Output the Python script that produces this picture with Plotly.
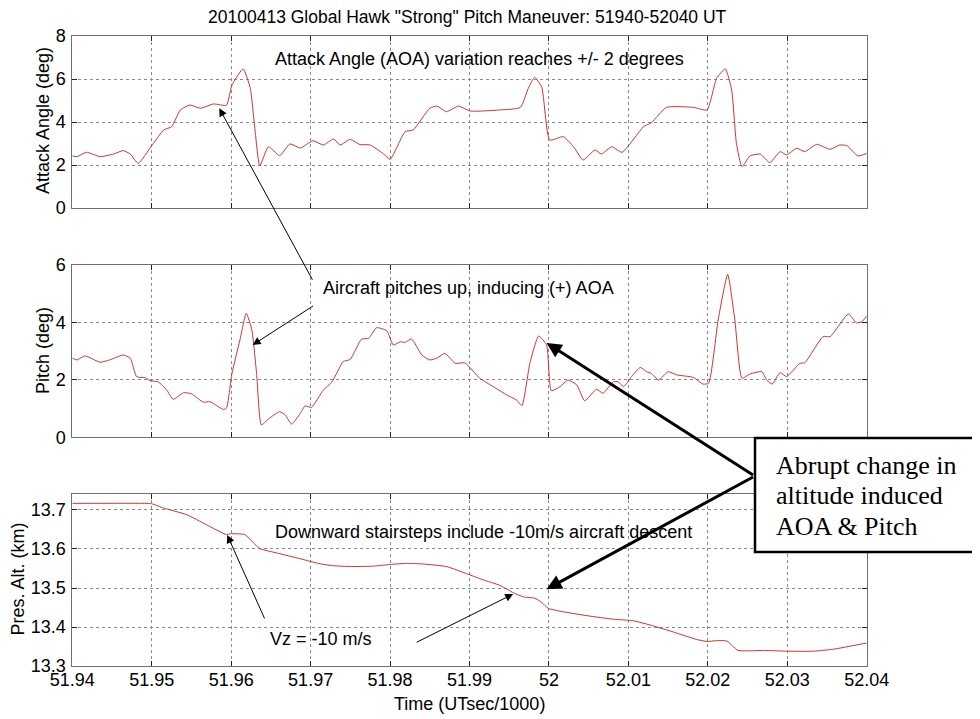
import plotly.graph_objects as go

# ---------------- data ----------------
aoa_t = [51.9400, 51.9406, 51.9418, 51.9435, 51.9452, 51.9464, 51.9473, 51.9483, 51.9500, 51.9515,
         51.9525, 51.9536, 51.9548, 51.9561, 51.9578, 51.9594, 51.9601, 51.9615, 51.9624, 51.9630,
         51.9636, 51.9647, 51.9661, 51.9674, 51.9687, 51.9703, 51.9716, 51.9729, 51.9737, 51.9750,
         51.9762, 51.9775, 51.9792, 51.9800, 51.9819, 51.9829, 51.9850, 51.9859, 51.9871, 51.9886,
         51.9901, 51.9938, 51.9964, 51.9974, 51.9982, 51.9991, 52.0001, 52.0018, 52.0031, 52.0043,
         52.0058, 52.0066, 52.0079, 52.0092, 52.0119, 52.0129, 52.0148, 52.0182, 52.0199, 52.0211,
         52.0222, 52.0230, 52.0236, 52.0243, 52.0253, 52.0266, 52.0278, 52.0291, 52.0299, 52.0312,
         52.0322, 52.0337, 52.0354, 52.0366, 52.0375, 52.0389, 52.0400]
aoa_v = [2.42, 2.39, 2.59, 2.39, 2.51, 2.67, 2.51, 2.08, 2.90, 3.63,
         3.78, 4.56, 4.79, 4.64, 4.84, 4.78, 5.72, 6.47, 5.57, 3.63,
         1.97, 2.85, 2.43, 2.98, 2.79, 3.13, 2.93, 3.21, 2.93, 3.19,
         2.95, 2.93, 2.51, 2.26, 3.55, 3.63, 4.64, 4.74, 4.48, 4.74,
         4.51, 4.56, 4.68, 5.57, 6.08, 5.61, 3.16, 3.32, 2.85, 2.23,
         2.70, 2.51, 2.85, 2.59, 3.78, 3.97, 4.68, 4.68, 4.56, 6.03,
         6.47, 5.49, 3.01, 1.92, 2.42, 2.51, 2.11, 2.62, 2.47, 2.78,
         2.62, 2.96, 2.73, 2.93, 2.90, 2.42, 2.54]

pitch_t = [51.9400, 51.9406, 51.9416, 51.9435, 51.9447, 51.9464, 51.9473, 51.9481, 51.9492, 51.9498,
           51.9508, 51.9519, 51.9527, 51.9540, 51.9550, 51.9565, 51.9573, 51.9590, 51.9594, 51.9601,
           51.9611, 51.9619, 51.9626, 51.9632, 51.9638, 51.9647, 51.9661, 51.9668, 51.9676, 51.9687,
           51.9693, 51.9701, 51.9716, 51.9727, 51.9741, 51.9750, 51.9764, 51.9773, 51.9783, 51.9796,
           51.9804, 51.9813, 51.9819, 51.9827, 51.9840, 51.9850, 51.9859, 51.9869, 51.9882, 51.9894,
           51.9913, 51.9930, 51.9947, 51.9959, 51.9966, 51.9976, 51.9987, 51.9997, 52.0003, 52.0014,
           52.0024, 52.0035, 52.0045, 52.0060, 52.0068, 52.0081, 52.0087, 52.0094, 52.0104, 52.0115,
           52.0123, 52.0129, 52.0138, 52.0150, 52.0161, 52.0182, 52.0194, 52.0201, 52.0213, 52.0225,
           52.0234, 52.0243, 52.0253, 52.0268, 52.0274, 52.0281, 52.0291, 52.0299, 52.0316, 52.0322,
           52.0345, 52.0354, 52.0377, 52.0387, 52.0394, 52.0400]
pitch_v = [2.75, 2.69, 2.83, 2.61, 2.69, 2.86, 2.75, 2.11, 2.07, 1.97,
           1.93, 1.64, 1.32, 1.55, 1.51, 1.22, 1.24, 0.97, 1.01, 2.22,
           3.38, 4.31, 3.73, 2.22, 0.43, 0.64, 0.89, 0.78, 0.46, 0.83,
           1.09, 1.04, 1.64, 1.93, 2.63, 2.71, 3.41, 3.44, 3.81, 3.70,
           3.21, 3.32, 3.30, 3.42, 2.86, 2.69, 2.75, 2.92, 2.57, 2.59,
           2.05, 1.76, 1.47, 1.30, 1.10, 2.57, 3.52, 3.21, 1.62, 1.76,
           1.99, 1.82, 1.27, 1.67, 1.53, 1.93, 1.93, 1.76, 2.11, 2.43,
           2.28, 2.22, 1.99, 2.28, 2.17, 2.08, 1.85, 1.88, 4.08, 5.66,
           4.08, 2.05, 2.20, 2.28, 1.99, 1.85, 2.25, 2.11, 2.57, 2.59,
           3.50, 3.50, 4.29, 3.98, 4.02, 4.22]

alt_t = [51.9400, 51.9494, 51.9500, 51.9515, 51.9544, 51.9569, 51.9594, 51.9599, 51.9617, 51.9628,
         51.9636, 51.9657, 51.9687, 51.9712, 51.9729, 51.9750, 51.9779, 51.9804, 51.9821, 51.9838,
         51.9871, 51.9896, 51.9917, 51.9938, 51.9955, 51.9968, 51.9982, 51.9991, 51.9999, 52.0018,
         52.0048, 52.0081, 52.0106, 52.0131, 52.0157, 52.0186, 52.0199, 52.0211, 52.0224, 52.0238,
         52.0270, 52.0299, 52.0333, 52.0358, 52.0400]
alt_v = [13.717, 13.717, 13.716, 13.705, 13.688, 13.662, 13.637, 13.639, 13.637, 13.616,
         13.601, 13.590, 13.575, 13.562, 13.557, 13.555, 13.556, 13.561, 13.563, 13.562,
         13.555, 13.537, 13.521, 13.507, 13.488, 13.477, 13.474, 13.463, 13.448, 13.439,
         13.429, 13.420, 13.416, 13.403, 13.387, 13.368, 13.363, 13.365, 13.364, 13.340,
         13.340, 13.338, 13.338, 13.343, 13.359]

x_ticks = [51.94, 51.95, 51.96, 51.97, 51.98, 51.99, 52.00, 52.01, 52.02, 52.03, 52.04]
x_labels = ["51.94", "51.95", "51.96", "51.97", "51.98", "51.99", "52", "52.01", "52.02", "52.03", "52.04"]
aoa_ticks = [0, 2, 4, 6, 8]
pitch_ticks = [0, 2, 4, 6]
alt_ticks = [13.3, 13.4, 13.5, 13.6, 13.7]
alt_labels = ["13.3", "13.4", "13.5", "13.6", "13.7"]

title_text = '20100413 Global Hawk "Strong" Pitch Maneuver: 51940-52040 UT'
box_lines = ["Abrupt change in", "altitude induced", "AOA &amp; Pitch"]

# ---------------- layout helpers ----------------
# the html page adds an 8px body margin, so the figure is drawn 8px in from the corner
OFF = 8
W, H = 980 - OFF, 719 - OFF
def px(x):
    return (x - OFF) / W
def py(y):
    return 1 - (y - OFF) / H

FONT = "Liberation Sans, Arial, sans-serif"
LINE_COLOR = "rgb(210,50,50)"

fig = go.Figure()
for t, v, xa, ya in [(aoa_t, aoa_v, "x", "y"), (pitch_t, pitch_v, "x2", "y2"), (alt_t, alt_v, "x3", "y3")]:
    fig.add_trace(go.Scatter(x=t, y=v, mode="lines",
                             line=dict(color=LINE_COLOR, width=1, shape="spline", smoothing=0.5),
                             xaxis=xa, yaxis=ya, showlegend=False, hoverinfo="skip"))

xdom = [px(72.3), px(866.7)]
doms = [[py(208), py(36)], [py(437.3), py(264.7)], [py(666), py(494)]]

common = dict(showline=True, linecolor="#707070", linewidth=1, mirror="ticks",
              ticks="inside", ticklen=5, tickcolor="#222", tickwidth=1,
              showgrid=True, gridcolor="#8a8a8a", griddash="dot", gridwidth=1,
              zeroline=False, automargin=False,
              tickfont=dict(family=FONT, size=18, color="black"))

def xaxis(anchor, show_labels):
    d = dict(common)
    d.update(domain=xdom, anchor=anchor, range=[51.94, 52.04], tickvals=x_ticks,
             ticktext=x_labels, showticklabels=show_labels, ticklabelstandoff=-3)
    return d

def yaxis(anchor, dom, rng, tv, tt=None):
    d = dict(common)
    d.update(domain=dom, anchor=anchor, range=rng, tickvals=tv, ticklabelstandoff=2)
    if tt is not None:
        d.update(ticktext=tt)
    return d

fig.update_layout(
    width=W, height=H, autosize=False,
    margin=dict(l=0, r=0, t=0, b=0),
    paper_bgcolor="white", plot_bgcolor="white",
    font=dict(family=FONT, size=18, color="black"),
    xaxis=xaxis("y", False),
    yaxis=yaxis("x", doms[0], [0, 8], aoa_ticks),
    xaxis2=xaxis("y2", False),
    yaxis2=yaxis("x2", doms[1], [0, 6], pitch_ticks),
    xaxis3=xaxis("y3", True),
    yaxis3=yaxis("x3", doms[2], [13.3, 13.741], alt_ticks, alt_labels),
)

ann = []
# title and axis titles
ann.append(dict(text=title_text, x=px(467.5), y=py(17.5), xref="paper", yref="paper",
                xanchor="center", yanchor="middle", showarrow=False, font=dict(size=17.5)))
ann.append(dict(text="Attack Angle (deg)", x=px(43), y=py(121), xref="paper", yref="paper",
                textangle=-90, xanchor="center", yanchor="middle", showarrow=False, font=dict(size=18)))
ann.append(dict(text="Pitch (deg)", x=px(43), y=py(351), xref="paper", yref="paper",
                textangle=-90, xanchor="center", yanchor="middle", showarrow=False, font=dict(size=18)))
ann.append(dict(text="Pres. Alt. (km)", x=px(17.5), y=py(579), xref="paper", yref="paper",
                textangle=-90, xanchor="center", yanchor="middle", showarrow=False, font=dict(size=18)))
ann.append(dict(text="Time (UTsec/1000)", x=px(469), y=py(704), xref="paper", yref="paper",
                xanchor="center", yanchor="middle", showarrow=False, font=dict(size=18)))

# in-panel texts
ann.append(dict(text="Attack Angle (AOA) variation reaches +/- 2 degrees", x=51.9653, y=6.93,
                xref="x", yref="y", xanchor="left", yanchor="middle", showarrow=False))
ann.append(dict(text="Aircraft pitches up, inducing (+) AOA", x=51.9713, y=5.19,
                xref="x2", yref="y2", xanchor="left", yanchor="middle", showarrow=False))
ann.append(dict(text="Downward stairsteps include -10m/s aircraft descent", x=51.9653, y=13.644,
                xref="x3", yref="y3", xanchor="left", yanchor="middle", showarrow=False))
ann.append(dict(text="Vz = -10 m/s", x=51.9646, y=13.369,
                xref="x3", yref="y3", xanchor="left", yanchor="middle", showarrow=False))

# thin arrows
thin = dict(text="", showarrow=True, arrowhead=2, arrowsize=1.6, arrowwidth=1, arrowcolor="black")
ann.append(dict(thin, x=51.9585, y=4.64, xref="x", yref="y", ax=94, ay=173))
ann.append(dict(thin, x=51.9627, y=3.21, xref="x2", yref="y2", ax=62, ay=-40))
ann.append(dict(thin, x=51.9595, y=13.636, xref="x3", yref="y3", ax=38, ay=85))
ann.append(dict(thin, x=51.9955, y=13.4846, xref="x3", yref="y3", ax=-98, ay=49))

# thick arrows
thick = dict(text="", showarrow=True, arrowhead=2, arrowsize=1, arrowwidth=3, arrowcolor="black")
ann.append(dict(thick, x=51.9997, y=3.28, xref="x2", yref="y2", ax=208, ay=133))
ann.append(dict(thick, x=51.9997, y=13.497, xref="x3", yref="y3", ax=208, ay=-113))

# box text, one annotation per line
for line_text, yc in zip(box_lines, [465, 495, 526]):
    ann.append(dict(text=line_text, x=px(774), y=py(yc), xref="paper", yref="paper",
                    xanchor="left", yanchor="middle", align="left", showarrow=False,
                    font=dict(family="Liberation Serif, Times New Roman, serif", size=26)))

fig.update_layout(annotations=ann)

fig.add_shape(type="rect", xref="paper", yref="paper", x0=px(755), x1=px(977), y0=py(552), y1=py(438),
              line=dict(color="black", width=2.5), fillcolor="white", layer="above")

fig.write_html("out.html")
